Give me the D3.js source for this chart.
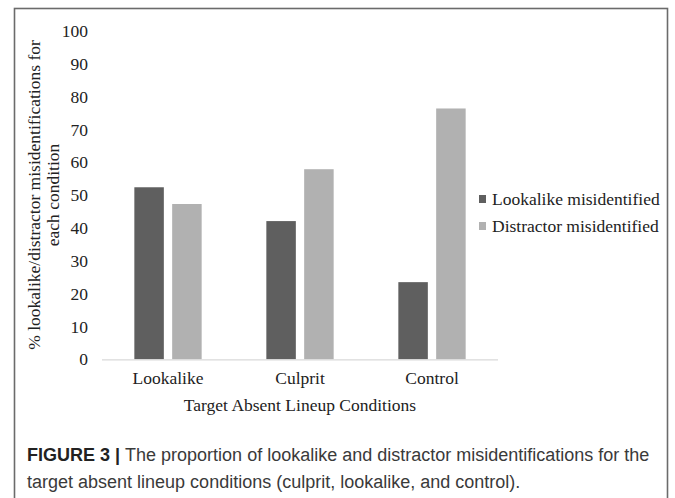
<!DOCTYPE html>
<html>
<head>
<meta charset="utf-8">
<script src="https://cdn.jsdelivr.net/npm/d3@7"></script>
<style>
  body { margin: 0; background: #fff; }
  svg text { fill: #222; }
</style>
</head>
<body>
<script>
var categories = ["Lookalike", "Culprit", "Control"];
var series = ["Lookalike misidentified", "Distractor misidentified"];
var lookalikeVals = [52.4, 42.1, 23.5];
var distractorVals = [47.3, 57.9, 76.4];
var yTicks = [0, 10, 20, 30, 40, 50, 60, 70, 80, 90, 100];
var colors = ["#5f5f5f", "#b1b1b1"];

var width = 675, height = 498;
var serif = "Liberation Serif, Times New Roman, serif";

var svg = d3.select("body").append("svg")
  .attr("width", width)
  .attr("height", height);

// frame
svg.append("rect")
  .attr("x", 14.5).attr("y", 8.5)
  .attr("width", 653).attr("height", 495)
  .attr("fill", "none")
  .attr("stroke", "#6b6b6b")
  .attr("stroke-width", 1.6);

var x0 = d3.scaleBand()
  .domain(categories)
  .range([102, 498])
  .paddingInner(0.49)
  .paddingOuter(0.245);

var x1 = d3.scaleBand()
  .domain(series)
  .range([0, x0.bandwidth()])
  .paddingInner(0.22);

var y = d3.scaleLinear()
  .domain([0, 100])
  .range([359.3, 31]);

var data = categories.map(function (c, i) {
  return { cat: c, vals: [lookalikeVals[i], distractorVals[i]] };
});

// y axis labels
var yAxis = svg.append("g")
  .attr("transform", "translate(102,0)")
  .call(d3.axisLeft(y).tickValues(yTicks).tickSize(0).tickPadding(14).tickFormat(d3.format("d")))
  .attr("font-family", serif)
  .attr("font-size", 17.5);
yAxis.select(".domain").remove();
yAxis.selectAll("text").attr("fill", "#222");

// bars
var groups = svg.selectAll("g.grp")
  .data(data)
  .enter().append("g")
  .attr("class", "grp")
  .attr("transform", function (d) { return "translate(" + x0(d.cat) + ",0)"; });

groups.selectAll("rect")
  .data(function (d) { return d.vals.map(function (v, i) { return { s: series[i], v: v, i: i }; }); })
  .enter().append("rect")
  .attr("x", function (d) { return x1(d.s); })
  .attr("y", function (d) { return y(d.v); })
  .attr("width", x1.bandwidth())
  .attr("height", function (d) { return y(0) - y(d.v); })
  .attr("fill", function (d) { return colors[d.i]; });

// baseline
svg.append("line")
  .attr("x1", 102).attr("x2", 498)
  .attr("y1", y(0) + 0.5).attr("y2", y(0) + 0.5)
  .attr("stroke", "#d9d9d9")
  .attr("stroke-width", 1.2);

// x axis labels
var xAxis = svg.append("g")
  .attr("transform", "translate(0," + y(0) + ")")
  .call(d3.axisBottom(x0).tickSize(0).tickPadding(12))
  .attr("font-family", serif)
  .attr("font-size", 17.5);
xAxis.select(".domain").remove();
xAxis.selectAll("text").attr("fill", "#222");

// x title
svg.append("text")
  .attr("x", 300).attr("y", 411)
  .attr("text-anchor", "middle")
  .attr("font-family", serif)
  .attr("font-size", 17.5)
  .text("Target Absent Lineup Conditions");

// y title (two lines)
var yTitle = svg.append("text")
  .attr("transform", "translate(40,195) rotate(-90)")
  .attr("text-anchor", "middle")
  .attr("font-family", serif)
  .attr("font-size", 17.5);
yTitle.append("tspan").attr("x", 0).attr("y", 0).text("% lookalike/distractor misidentifications for");
yTitle.append("tspan").attr("x", 0).attr("y", 19).text("each condition");

// legend
var legend = svg.selectAll("g.leg")
  .data(series)
  .enter().append("g")
  .attr("class", "leg")
  .attr("transform", function (d, i) { return "translate(479," + (199 + i * 27) + ")"; });
legend.append("rect")
  .attr("x", 0).attr("y", -4)
  .attr("width", 7).attr("height", 8)
  .attr("fill", function (d, i) { return colors[i]; });
legend.append("text")
  .attr("x", 13).attr("y", 6)
  .attr("font-family", serif)
  .attr("font-size", 17.5)
  .text(function (d) { return d; });

// caption
var cap = svg.append("text")
  .attr("x", 27).attr("y", 461)
  .attr("font-family", "Liberation Sans, Arial, sans-serif")
  .attr("font-size", 18);
cap.append("tspan").attr("font-weight", "bold").style("fill", "#222").text("FIGURE 3 | ");
cap.append("tspan").style("fill", "#3a3a3a").text("The proportion of lookalike and distractor misidentifications for the");
svg.append("text")
  .attr("x", 27).attr("y", 488)
  .attr("font-family", "Liberation Sans, Arial, sans-serif")
  .attr("font-size", 18)
  .style("fill", "#3a3a3a")
  .text("target absent lineup conditions (culprit, lookalike, and control).");
</script>
</body>
</html>
